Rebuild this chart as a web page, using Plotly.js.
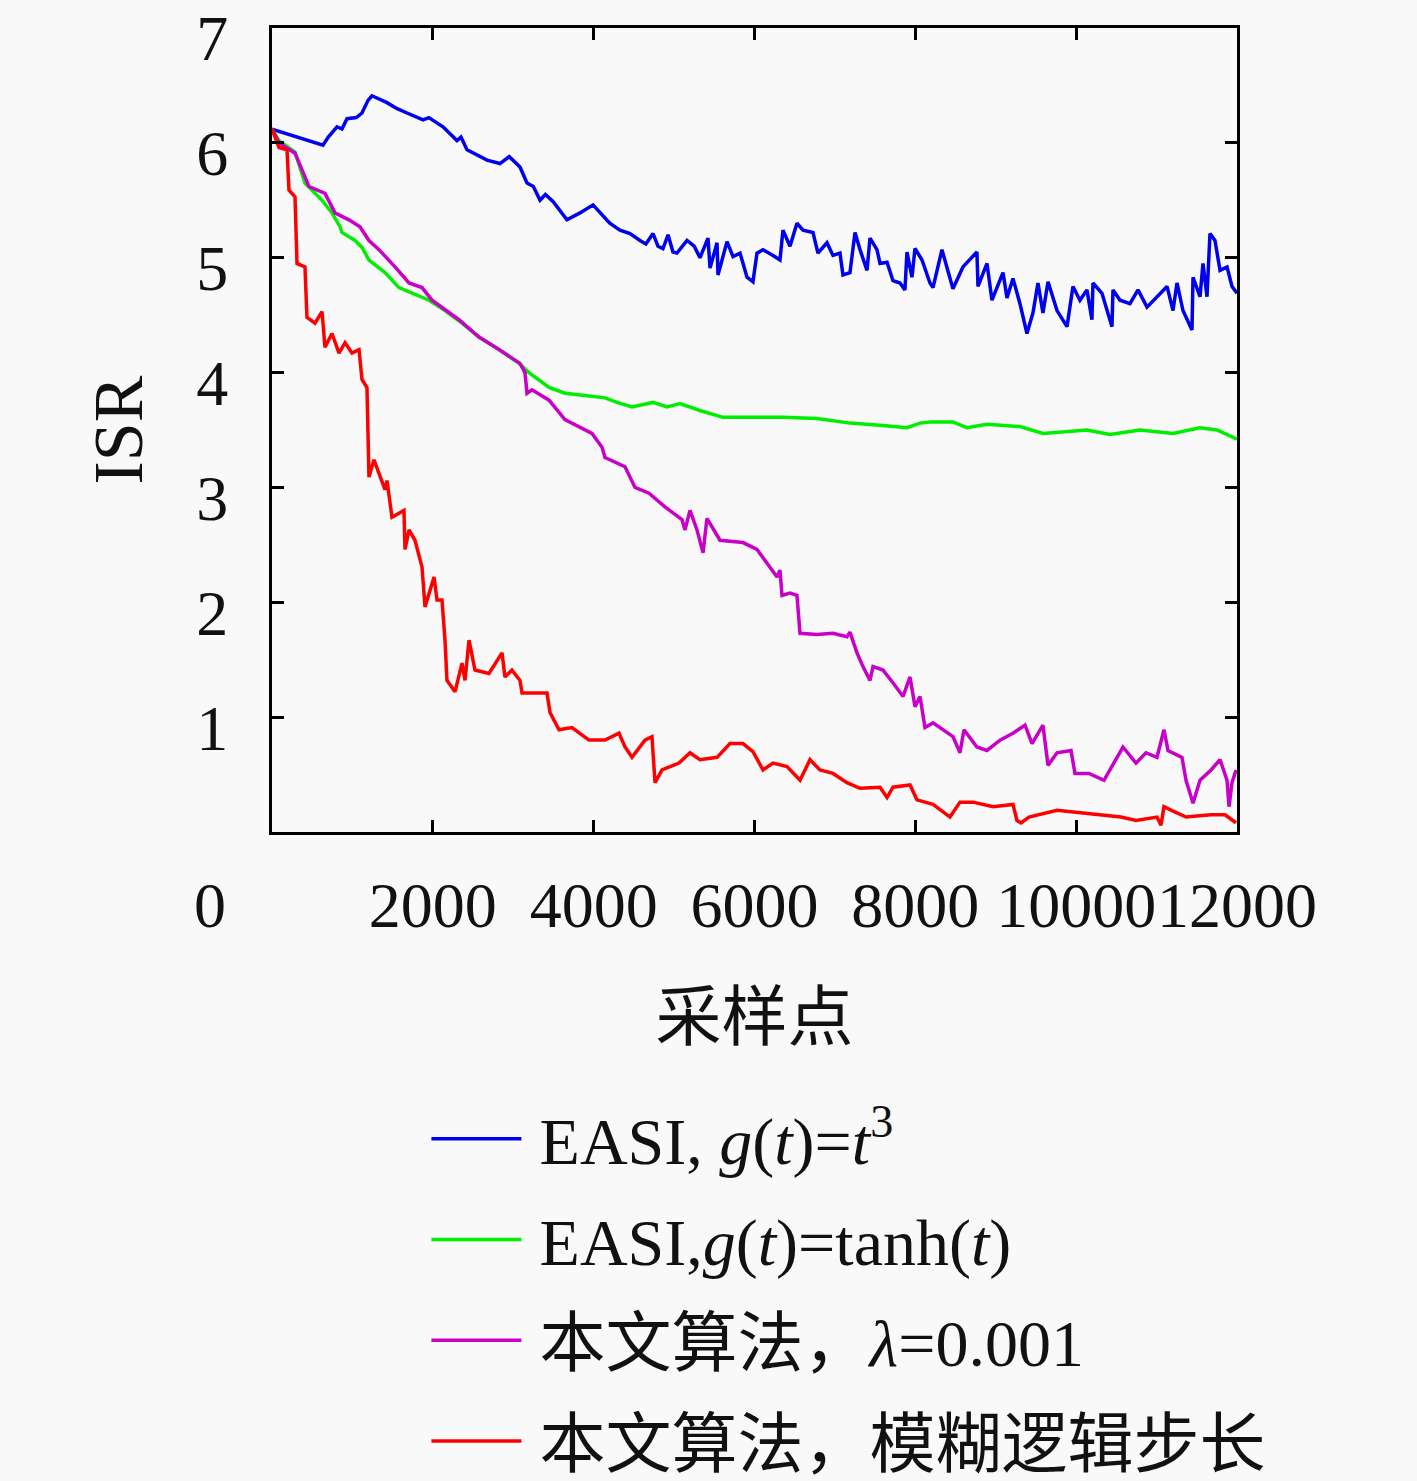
<!DOCTYPE html>
<html>
<head>
<meta charset="utf-8">
<script src="https://cdn.plot.ly/plotly-3.0.1.min.js"></script>
<style>
  body { margin: 0; background: #f9f9f9; }
</style>
</head>
<body>
<div id="chart" style="width:1417px;height:1481px;"></div>
<script>
//Data

let blueX = [0, 300, 634, 700, 808, 870, 933, 1050, 1119, 1194, 1243, 1430, 1550, 1679, 1878, 1950, 2126, 2300, 2350, 2425,
    2674, 2835, 2950, 3084, 3171, 3250, 3333, 3400, 3494, 3668, 3830, 3992, 4116, 4200, 4327, 4452, 4576, 4650, 4738, 4800,
    4862, 4925, 4986, 5036, 5161, 5250, 5322, 5422, 5447, 5534, 5546, 5658, 5733, 5820, 5907, 5981, 6031, 6106, 6230, 6317,
    6354, 6441, 6528, 6603, 6727, 6789, 6901, 6976, 7063, 7100, 7187, 7250, 7312, 7399, 7436, 7523, 7561, 7648, 7722, 7809,
    7871, 7896, 7958, 7996, 8083, 8182, 8220, 8331, 8468, 8592, 8766, 8779, 8891, 8953, 9090, 9140, 9214, 9301, 9388, 9463,
    9525, 9587, 9650, 9762, 9886, 9960, 10047, 10134, 10196, 10209, 10321, 10445, 10458, 10545, 10669, 10769, 10881, 11005, 11130, 11204,
    11254, 11328, 11440, 11453, 11540, 11577, 11627, 11664, 11726, 11789, 11876, 11938, 12000];
let blueY = [6.12, 6.05, 5.98, 6.05, 6.14, 6.12, 6.21, 6.22, 6.26, 6.37, 6.41, 6.35, 6.30, 6.26, 6.20, 6.22, 6.14, 6.02, 6.05, 5.94,
    5.85, 5.82, 5.88, 5.79, 5.65, 5.62, 5.50, 5.55, 5.49, 5.33, 5.39, 5.46, 5.36, 5.30, 5.24, 5.21, 5.15, 5.12, 5.21, 5.10,
    5.08, 5.20, 5.05, 5.04, 5.15, 5.10, 5.00, 5.17, 4.91, 5.13, 4.85, 5.14, 5.01, 5.04, 4.83, 4.79, 5.04, 5.07, 5.02, 4.98,
    5.24, 5.10, 5.30, 5.24, 5.22, 5.04, 5.13, 5.02, 5.04, 4.85, 4.87, 5.22, 5.07, 4.89, 5.17, 5.07, 4.95, 4.96, 4.80, 4.78,
    4.72, 5.05, 4.83, 5.08, 4.98, 4.78, 4.74, 5.07, 4.73, 4.92, 5.05, 4.75, 4.95, 4.63, 4.87, 4.65, 4.82, 4.60, 4.34, 4.52,
    4.78, 4.52, 4.79, 4.54, 4.40, 4.75, 4.63, 4.72, 4.46, 4.78, 4.69, 4.40, 4.72, 4.63, 4.60, 4.72, 4.57, 4.66, 4.75, 4.54,
    4.78, 4.54, 4.37, 4.83, 4.66, 4.95, 4.66, 5.21, 5.15, 4.89, 4.92, 4.75, 4.69];

let greenX = [0, 87, 286, 410, 622, 746, 846, 870, 1032, 1119, 1206, 1405, 1579, 1741, 1952, 2151, 2363, 2574, 2823, 3072,
    3196, 3445, 3643, 3892, 4141, 4290, 4477, 4738, 4912, 5073, 5322, 5608, 5944, 6354, 6777, 7187, 7598, 7896, 8058, 8182,
    8468, 8642, 8891, 9301, 9587, 10134, 10420, 10794, 11204, 11540, 11751, 11975, 12000];
let greenY = [6.12, 6.02, 5.92, 5.65, 5.50, 5.39, 5.27, 5.22, 5.15, 5.09, 4.98, 4.87, 4.74, 4.69, 4.63, 4.54, 4.43, 4.31, 4.20, 4.08,
    4.00, 3.87, 3.82, 3.80, 3.78, 3.74, 3.70, 3.74, 3.70, 3.73, 3.67, 3.61, 3.61, 3.61, 3.60, 3.56, 3.54, 3.52, 3.56, 3.57,
    3.57, 3.52, 3.55, 3.53, 3.47, 3.50, 3.46, 3.50, 3.47, 3.52, 3.50, 3.43, 3.42];

let purpleX = [0, 87, 286, 460, 659, 783, 957, 1094, 1206, 1331, 1530, 1704, 1865, 1990, 2325, 2574, 2823, 3084, 3146, 3171,
    3233, 3445, 3643, 3979, 4104, 4141, 4390, 4514, 4688, 4887, 5098, 5136, 5198, 5285, 5360, 5409, 5571, 5857, 6031, 6155,
    6280, 6317, 6342, 6441, 6528, 6566, 6777, 6976, 7150, 7187, 7274, 7349, 7436, 7474, 7598, 7722, 7847, 7934, 7996, 8058,
    8120, 8220, 8344, 8468, 8555, 8605, 8766, 8891, 9053, 9214, 9364, 9451, 9587, 9650, 9762, 9936, 9985, 10159, 10346, 10470,
    10582, 10744, 10868, 11005, 11092, 11142, 11316, 11366, 11453, 11540, 11677, 11789, 11876, 11901, 11938, 11988];
let purpleY = [6.12, 6.00, 5.91, 5.62, 5.56, 5.39, 5.33, 5.27, 5.15, 5.07, 4.92, 4.78, 4.74, 4.63, 4.46, 4.31, 4.20, 4.08, 4.00, 3.82,
    3.85, 3.76, 3.59, 3.47, 3.35, 3.26, 3.18, 3.00, 2.95, 2.83, 2.72, 2.63, 2.80, 2.63, 2.43, 2.73, 2.54, 2.52, 2.46, 2.34,
    2.22, 2.28, 2.06, 2.08, 2.06, 1.73, 1.72, 1.73, 1.70, 1.74, 1.56, 1.44, 1.32, 1.44, 1.41, 1.30, 1.18, 1.35, 1.09, 1.18,
    0.91, 0.95, 0.89, 0.83, 0.69, 0.89, 0.74, 0.71, 0.80, 0.86, 0.93, 0.77, 0.93, 0.58, 0.69, 0.71, 0.51, 0.51, 0.45, 0.60,
    0.74, 0.60, 0.69, 0.65, 0.89, 0.71, 0.65, 0.45, 0.25, 0.45, 0.54, 0.63, 0.45, 0.22, 0.43, 0.54];

let redX = [0, 87, 187, 211, 286, 311, 410, 435, 535, 622, 659, 746, 833, 908, 995, 1082, 1119, 1181, 1206, 1268,
    1405, 1430, 1492, 1641, 1654, 1704, 1778, 1865, 1903, 2015, 2052, 2114, 2151, 2176, 2276, 2363, 2400, 2450, 2524, 2698,
    2860, 2897, 2984, 3084, 3109, 3320, 3420, 3457, 3569, 3730, 3942, 4141, 4315, 4390, 4477, 4638, 4725, 4763, 4850, 5061,
    5198, 5322, 5534, 5695, 5857, 5981, 6106, 6230, 6404, 6566, 6690, 6814, 6976, 7150, 7312, 7561, 7648, 7722, 7934, 8020,
    8220, 8431, 8555, 8717, 8966, 9214, 9264, 9314, 9413, 9762, 10035, 10557, 10744, 11005, 11055, 11092, 11179, 11366, 11677, 11851,
    11988];
let redY = [6.12, 5.96, 5.94, 5.59, 5.53, 4.95, 4.92, 4.48, 4.43, 4.53, 4.22, 4.34, 4.17, 4.26, 4.17, 4.20, 3.94, 3.87, 3.09, 3.24,
    2.98, 3.06, 2.74, 2.80, 2.46, 2.63, 2.54, 2.31, 1.96, 2.22, 2.02, 2.02, 1.67, 1.32, 1.22, 1.47, 1.32, 1.67, 1.41, 1.38,
    1.56, 1.35, 1.41, 1.32, 1.21, 1.21, 1.21, 1.04, 0.89, 0.91, 0.80, 0.80, 0.86, 0.74, 0.65, 0.80, 0.83, 0.43, 0.54, 0.60,
    0.69, 0.63, 0.65, 0.77, 0.77, 0.70, 0.54, 0.60, 0.57, 0.45, 0.63, 0.54, 0.51, 0.43, 0.38, 0.39, 0.30, 0.39, 0.41, 0.28,
    0.24, 0.13, 0.26, 0.26, 0.22, 0.24, 0.10, 0.08, 0.13, 0.19, 0.17, 0.13, 0.10, 0.13, 0.06, 0.22, 0.19, 0.13, 0.15, 0.15,
    0.08];

let seriesNames = [
    'EASI, <i>g</i>(<i>t</i>)=<i>t</i><sup>3</sup>',
    'EASI,<i>g</i>(<i>t</i>)=tanh(<i>t</i>)',
    '本文算法，<i>λ</i>=0.001',
    '本文算法，模糊逻辑步长'
];
let seriesColors = ['#0000f0', '#00ee00', '#c800c8', '#ff0000'];

let xTicks = [2000, 4000, 6000, 8000, 10000, 12000];
let yTicks = [1, 2, 3, 4, 5, 6, 7];

//Plot
let chart = document.getElementById('chart');
let serif = 'Liberation Serif, "Noto Sans CJK SC", serif';
let xs = [blueX, greenX, purpleX, redX];
let ys = [blueY, greenY, purpleY, redY];

let data = [];
for (let i = 0; i < xs.length; i++) {
    data.push({
        type: 'scatter',
        mode: 'lines',
        x: xs[i],
        y: ys[i],
        name: '\u2009' + seriesNames[i],
        legendgroup: 'g' + i,
        line: {color: seriesColors[i], width: 3.5}
    });
}

let axisStyle = {
    showline: true,
    linecolor: '#000',
    linewidth: 3,
    mirror: 'ticks',
    ticks: 'inside',
    ticklen: 12,
    tickwidth: 3,
    tickcolor: '#000',
    showgrid: false,
    zeroline: false,
    ticklabeloverflow: 'allow',
    tickfont: {family: serif, size: 64, color: '#111'}
};

let layout = {
    width: 1417,
    height: 1481,
    margin: {l: 272, r: 180, t: 28, b: 649, autoexpand: false},
    paper_bgcolor: '#f9f9f9',
    plot_bgcolor: '#f9f9f9',
    showlegend: true,
    xaxis: Object.assign({}, axisStyle, {
        range: [0, 12000],
        tickvals: xTicks,
        ticktext: xTicks.map(String),
        tickangle: 0,
        ticklabelstandoff: 15,
        title: {text: '采样点', font: {family: '"Noto Sans CJK SC", sans-serif', size: 66, color: '#111'}, standoff: 55}
    }),
    yaxis: Object.assign({}, axisStyle, {
        range: [0, 7],
        tickvals: yTicks,
        ticktext: yTicks.map(String),
        ticklabelstandoff: 28,
        ticklabelshift: 10,
        title: {text: 'ISR', font: {family: serif, size: 70, color: '#111'}, standoff: 31}
    }),
    legend: {
        x: 0.16,
        xanchor: 'left',
        y: -0.32,
        yanchor: 'top',
        bgcolor: 'rgba(0,0,0,0)',
        borderwidth: 0,
        traceorder: 'grouped',
        tracegroupgap: 12,
        itemwidth: 90,
        font: {family: serif, size: 66, color: '#111'}
    },
    annotations: [{
        xref: 'paper', yref: 'paper',
        x: -0.064, y: -0.0908,
        xanchor: 'center', yanchor: 'middle',
        text: '0',
        showarrow: false,
        font: {family: serif, size: 64, color: '#111'}
    }]
};

Plotly.newPlot(chart, data, layout, {staticPlot: true});
</script>
</body>
</html>
